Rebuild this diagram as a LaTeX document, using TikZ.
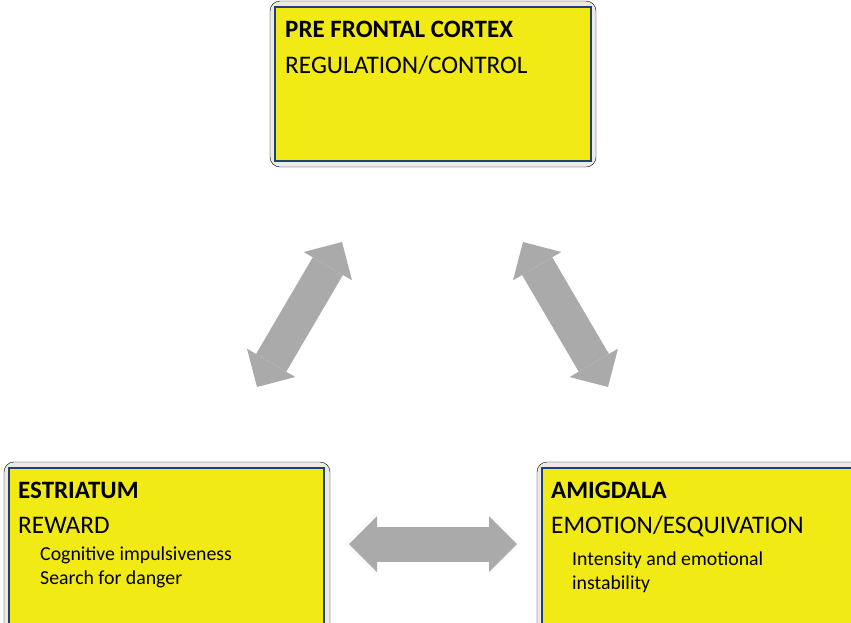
\documentclass[tikz,border=0pt]{standalone}
\usepackage{fontspec}
\setmainfont{Carlito}
\usetikzlibrary{arrows.meta}
\definecolor{boxyellow}{RGB}{242,234,20}
\definecolor{boxblue}{RGB}{30,66,120}
\definecolor{halogray}{RGB}{236,234,226}
\definecolor{arrowgray}{RGB}{170,170,170}
\begin{document}
\begin{tikzpicture}[x=1pt,y=-1pt,
	halo/.style={fill=halogray,rounded corners=10pt},
	region/.style={fill=boxyellow,draw=boxblue,line width=1.4pt},
	title/.style={anchor=base west,inner sep=0pt,font=\fontsize{25}{28}\selectfont\bfseries},
	role/.style={anchor=base west,inner sep=0pt,font=\fontsize{25.3}{29}\selectfont},
	detail/.style={anchor=base west,inner sep=0pt,font=\fontsize{19.8}{24}\selectfont},
	bigarrow/.style={draw=arrowgray,line width=35pt,
		{Triangle[length=28pt,width=56pt,line width=0pt]}-{Triangle[length=28pt,width=56pt,line width=0pt]}}]
		\useasboundingbox (0,0) rectangle (851,622);
		% pre frontal cortex
		\draw[halo] (270,1) rectangle (596,167);
		\draw[region] (275,7) rectangle (591,161);
		\node[title] (pfc) at (285,37) {PRE FRONTAL CORTEX};
		\node[role] (pfcrole) at (285,73) {REGULATION/CONTROL};
		% estriatum
		\draw[halo] (4,462) rectangle (330,640);
		\draw[region] (9,468) rectangle (324,635);
		\node[title] (estr) at (18,498) {ESTRIATUM};
		\node[role] (estrrole) at (18,533) {REWARD};
		\node[detail] (estra) at (40,560) {Cognitive impulsiveness};
		\node[detail] (estrb) at (40,584) {Search for danger};
		% amigdala
		\draw[halo] (537,462) rectangle (862,640);
		\draw[region] (542,468) rectangle (857,635);
		\node[title] (amig) at (551,498) {AMIGDALA};
		\node[role] (amigrole) at (551,533) {EMOTION/ESQUIVATION};
		\node[detail] (amiga) at (572,565) {Intensity and emotional};
		\node[detail] (amigb) at (572,589) {instability};
		% arrows
		\coordinate (lefttop) at (342,242);
		\coordinate (leftbot) at (257,387);
		\coordinate (righttop) at (523,242);
		\coordinate (rightbot) at (608,387);
		\coordinate (midleft) at (349,544);
		\coordinate (midright) at (517,544);
		\draw[bigarrow] (leftbot) -- (lefttop);
		\draw[bigarrow] (righttop) -- (rightbot);
		\draw[bigarrow] (midleft) -- (midright);
	\end{tikzpicture}
\end{document}
